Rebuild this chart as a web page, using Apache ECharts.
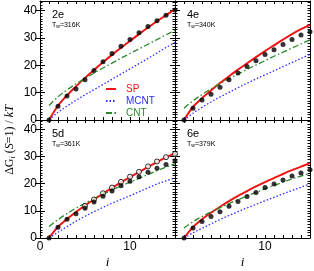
<!DOCTYPE html>
<html><head><meta charset="utf-8">
<script src="https://cdn.jsdelivr.net/npm/echarts@6/dist/echarts.min.js"></script>
<style>html,body{margin:0;padding:0;background:#fff}#c{width:314px;height:271px}</style>
</head><body><div id="c"></div>
<script>
// ---- data ----
const clusterSize = [1,2,3,4,5,6,7,8,9,10,11,12,13,14,15];
const panelNames = ['2e','4e','5d','6e'];
const panelTemps = ['316K','340K','361K','379K'];
const xTickLabels = [0,10];
const yTickLabels = [0,10,20,30,40];

const sp2e   = [0,5.2,9.0,12.3,15.4,18.3,21.1,23.8,26.4,28.9,31.4,33.8,36.1,38.3,40.5];
const mcnt2e = [0,2.8,5.1,7.2,9.2,11.1,13.0,14.9,16.8,18.7,20.6,22.5,24.5,26.5,28.3];
const cnt2e  = [5.3,8.5,11.0,13.2,15.2,17.1,19.0,20.8,22.6,24.3,26.0,27.7,29.4,31.1,32.8];
const pts2e  = [0,5.0,8.8,11.3,14.7,18.1,21.3,24.3,27.0,29.4,31.9,34.2,36.3,38.3,40.2];

const sp4e   = [0,4.8,8.0,10.8,13.5,16.0,18.4,20.7,23.0,25.2,27.3,29.4,31.4,33.2,34.8];
const mcnt4e = [0,2.5,4.6,6.6,8.4,10.1,11.8,13.4,15.0,16.5,18.0,19.5,21.0,22.5,24.0];
const cnt4e  = [4.3,7.0,9.3,11.4,13.3,15.1,16.8,18.5,20.1,21.7,23.3,24.8,26.3,27.8,29.3];
const pts4e  = [0,4.3,7.3,9.4,12.0,14.7,17.2,19.6,21.7,23.9,25.7,27.6,29.4,31.1,32.3];

const sp5d   = [0,4.1,7.0,9.6,12.0,14.2,16.4,18.5,20.5,22.4,24.3,26.2,28.0,29.7,31.3];
const mcnt5d = [0,2.1,4.2,6.2,8.0,9.7,11.3,12.8,14.2,15.6,17.0,18.5,19.9,21.1,22.2];
const cnt5d  = [4.2,6.8,9.0,11.0,12.8,14.5,16.1,17.7,19.2,20.6,22.0,23.4,24.8,26.1,27.4];
const pts5d  = [0,4.0,6.9,8.9,11.0,13.3,15.4,17.3,19.3,20.9,22.6,24.2,25.7,27.1,28.5];
const open5d = [null,null,null,null,11.8,14.2,16.5,18.6,20.7,22.6,24.4,26.4,28.2,29.8,31.0];

const sp6e   = [0,4.0,6.9,9.3,11.5,13.6,15.5,17.3,19.0,20.6,22.1,23.6,25.0,26.3,27.6];
const mcnt6e = [0,1.9,3.6,5.2,6.8,8.3,9.7,11.1,12.4,13.7,15.0,16.3,17.5,18.7,19.9];
const cnt6e  = [3.7,6.0,7.9,9.6,11.2,12.7,14.1,15.5,16.8,18.1,19.4,20.6,21.8,22.8,23.8];
const pts6e  = [0,3.7,6.1,7.9,9.7,11.7,13.5,15.3,16.8,18.6,19.9,21.4,22.9,24.0,25.2];

// ---- build ----
const panels = [
  {sp:sp2e, mcnt:mcnt2e, cnt:cnt2e, pts:pts2e, open:null},
  {sp:sp4e, mcnt:mcnt4e, cnt:cnt4e, pts:pts4e, open:null},
  {sp:sp5d, mcnt:mcnt5d, cnt:cnt5d, pts:pts5d, open:open5d},
  {sp:sp6e, mcnt:mcnt6e, cnt:cnt6e, pts:pts6e, open:null}
];
const grids = [
  {left:40, top:1, width:135, height:119},
  {left:175, top:1, width:135, height:119},
  {left:40, top:120, width:135, height:118},
  {left:175, top:120, width:135, height:118}
];
const XMAX = 15, YMAX = 43.5;
const black = '#000';
const FONT = 'Liberation Sans';
const RED = '#f01414', BLUE = '#2b2bff', GREEN = '#2a8a2a';
const xAxes = [], yAxes = [], series = [], graphic = [];

grids.forEach((g, k) => {
  const bottomRow = k >= 2, leftCol = (k % 2) === 0;
  ['bottom','top'].forEach(pos => {
    xAxes.push({
      gridIndex:k, type:'value', min:0, max:XMAX, interval:1, position:pos,
      axisLine:{show:true, onZero:false, lineStyle:{color:black, width:1}},
      axisTick:{show:true, inside:true, length:3, lineStyle:{color:black, width:1}},
      splitLine:{show:false},
      axisLabel:{show: pos==='bottom' && bottomRow,
        formatter: v => xTickLabels.includes(v) ? String(v) : '',
        showMinLabel: leftCol, showMaxLabel:false,
        fontSize:12, color:black, margin:3, fontFamily:FONT},
      name: (pos==='bottom' && bottomRow) ? 'i' : '',
      nameLocation:'middle', nameGap:18,
      nameTextStyle:{fontFamily:'Liberation Serif', fontStyle:'italic', fontSize:13, color:black}
    });
  });
  ['left','right'].forEach(pos => {
    yAxes.push({
      gridIndex:k, type:'value', min:0, max:YMAX, interval:1, position:pos,
      axisLine:{show:true, onZero:false, lineStyle:{color:black, width:1}},
      axisTick:{show:true, inside:true, length:2.5, lineStyle:{color:black, width:1}},
      splitLine:{show:false},
      axisLabel:{show: pos==='left' && leftCol,
        formatter: v => yTickLabels.includes(v) ? String(v) : '',
        showMaxLabel:false,
        fontSize:12, color:black, margin:3, fontFamily:FONT}
    });
    yAxes.push({
      gridIndex:k, type:'value', min:0, max:YMAX, position:pos,
      axisLine:{show:false},
      axisTick:{show:true, inside:true, length:5, customValues:yTickLabels, lineStyle:{color:black, width:1}},
      splitLine:{show:false},
      axisLabel:{show:false}
    });
  });
  const p = panels[k];
  const xi = 2*k, yi = 4*k;
  const mk = arr => clusterSize.map((x,j) => [x, arr[j]]);
  series.push({name:'SP', type:'line', xAxisIndex:xi, yAxisIndex:yi, data:mk(p.sp),
    symbol:'none', smooth:0.35, z:2, lineStyle:{color:RED, width:2}, itemStyle:{color:RED}});
  series.push({name:'MCNT', type:'line', xAxisIndex:xi, yAxisIndex:yi, data:mk(p.mcnt),
    symbol:'none', smooth:0.35, z:2, lineStyle:{color:BLUE, width:1.3, type:[1.5,2]}, itemStyle:{color:BLUE}});
  series.push({name:'CNT', type:'line', xAxisIndex:xi, yAxisIndex:yi, data:mk(p.cnt),
    symbol:'none', smooth:0.35, z:2, lineStyle:{color:GREEN, width:1.3, type:[6,2.5,1.5,2.5]}, itemStyle:{color:GREEN}});
  if (p.open) {
    series.push({name:'open', type:'scatter', xAxisIndex:xi, yAxisIndex:yi,
      data:clusterSize.map((x,j)=>[x,p.open[j]]).filter(d=>d[1]!==null),
      symbol:'circle', symbolSize:5, z:5,
      itemStyle:{color:'#fff', borderColor:black, borderWidth:1}});
  }
  series.push({name:'sim', type:'scatter', xAxisIndex:xi, yAxisIndex:yi, data:mk(p.pts),
    symbol:'circle', symbolSize:5, z:6, itemStyle:{color:black}});

  graphic.push({type:'text', left:g.left+12, top:g.top+8,
    style:{text:panelNames[k], font:'11px "Liberation Sans"', fill:black}});
  graphic.push({type:'text', left:g.left+12, top:g.top+21,
    style:{text:'{a|T}{b|w}{a|=' + panelTemps[k] + '}',
      rich:{a:{fontSize:7, fontFamily:FONT, fill:black, color:black},
            b:{fontSize:5, fontFamily:FONT, color:black, padding:[3,0,0,0]}}}});
});

graphic.push({type:'text', x:10, y:140, rotation:Math.PI/2,
  style:{text:'{n|ΔG}{s|i}{n| (}{it|S}{n|=1) / }{it|kT}',
    align:'center', verticalAlign:'middle',
    rich:{n:{fontSize:12, fontFamily:'Liberation Serif', color:black},
          it:{fontSize:12, fontFamily:'Liberation Serif', fontStyle:'italic', color:black},
          s:{fontSize:8, fontFamily:'Liberation Serif', fontStyle:'italic', color:black, padding:[5,0,0,0]}}}});

const option = {
  animation:false,
  backgroundColor:'#fff',
  grid:grids,
  xAxis:xAxes, yAxis:yAxes, series,
  legend:{orient:'vertical', left:105, top:84, itemWidth:10, itemHeight:8, itemGap:2, padding:0,
    itemStyle:{opacity:0},
    textStyle:{fontSize:10, lineHeight:10, fontFamily:FONT, padding:[0,0,0,5]},
    data:[{name:'SP', textStyle:{color:RED}},
          {name:'MCNT', textStyle:{color:BLUE}},
          {name:'CNT', textStyle:{color:GREEN}}]},
  graphic
};
const chart = echarts.init(document.getElementById('c'), null, {renderer:'canvas'});
chart.setOption(option);
</script></body></html>
